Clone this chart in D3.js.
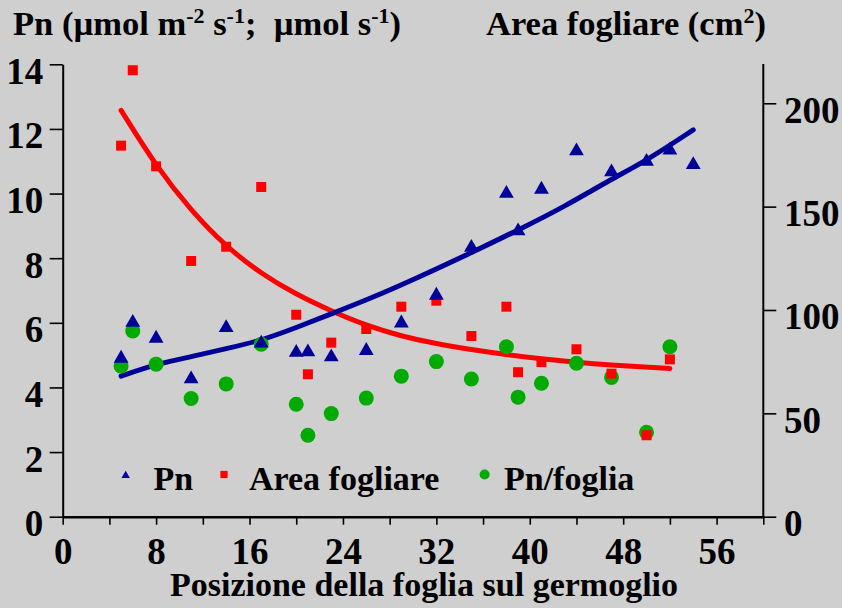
<!DOCTYPE html>
<html>
<head>
<meta charset="utf-8">
<script src="https://cdn.jsdelivr.net/npm/d3@7"></script>
<style>
  html, body { margin: 0; padding: 0; background: #cfcfcf; }
  svg { display: block; }
  text { font-family: "Liberation Serif", "Times New Roman", serif; font-weight: bold; fill: #000; }
</style>
</head>
<body>
<script>
// Leaf position along the shoot
const leafPos = [5, 6, 8, 11, 14, 17, 20, 21, 23, 26, 29, 32, 35, 38, 39, 41, 44, 47, 50, 52, 54];
// Net photosynthesis (µmol m-2 s-1)
const pnValues = [4.93, 6.04, 5.55, 4.29, 5.88, 5.40, 5.11, 5.13, 4.97, 5.17, 6.02, 6.88, 8.36, 10.03, 8.87, 10.16, 11.35, 10.70, 11.02, 11.37, 10.92];
// Leaf area (cm2), right axis
const areaValues = [179.5, 216.0, 169.5, 123.7, 130.6, 159.5, 97.7, 68.9, 84.2, 90.8, 101.6, 104.5, 87.4, 101.6, 69.9, 74.8, 81.0, 69.2, 39.4, 76.1, null];
// Photosynthesis per leaf (µmol s-1)
const pnLeafValues = [4.66, 5.75, 4.72, 3.66, 4.11, 5.34, 3.48, 2.52, 3.19, 3.67, 4.35, 4.80, 4.26, 5.26, 3.70, 4.13, 4.75, 4.31, 2.61, 5.26, null];

// Trend lines
const trendPnX = [5, 8, 11, 14, 17, 20, 23, 26, 30, 35, 39, 43, 47, 50, 54];
const trendPnY = [4.35, 4.72, 4.95, 5.2, 5.45, 5.85, 6.28, 6.7, 7.33, 8.17, 8.87, 9.6, 10.45, 11.02, 11.97];
const trendAreaX = [5, 8, 11, 14, 17, 20, 23, 26, 29, 32, 35, 38, 41, 44, 47, 50, 52];
const trendAreaY = [196.6, 169.5, 148, 130.6, 117.5, 107.5, 99.5, 92.5, 87.3, 83.6, 80.8, 78.4, 76.3, 74.6, 73.3, 72.3, 71.7];

// Axis ticks
const xTicksMinor = d3.range(0, 61, 4);
const xTickLabels = [0, 8, 16, 24, 32, 40, 48, 56];
const yLeftTicks = [0, 2, 4, 6, 8, 10, 12, 14];
const yRightTicks = [0, 50, 100, 150, 200];

const legendItems = [
  { label: "Pn", kind: "tri" },
  { label: "Area fogliare", kind: "sq" },
  { label: "Pn/foglia", kind: "dot" }
];

const W = 842, H = 608;
const colBlue = "#000099", colRed = "#ff0000", colGreen = "#00aa00";

const svg = d3.select("body").append("svg").attr("width", W).attr("height", H);
svg.append("rect").attr("width", W).attr("height", H).attr("fill", "#cfcfcf");

const x = d3.scaleLinear().domain([0, 60]).range([62.7, 763.3]);
const yL = d3.scaleLinear().domain([0, 14]).range([516.7, 64.3]);
const yR = d3.scaleLinear().domain([0, 219]).range([516.7, 64]);

const tickFont = 37;

// Left axis
const gL = svg.append("g").attr("transform", `translate(${x(0)},0)`)
  .call(d3.axisLeft(yL).tickValues(yLeftTicks).tickSize(13).tickPadding(6.4).tickSizeOuter(0));
// Right axis
const gR = svg.append("g").attr("transform", `translate(${x(60)},0)`)
  .call(d3.axisRight(yR).tickValues(yRightTicks).tickSize(13).tickPadding(7.6).tickSizeOuter(0));
[gL, gR].forEach(g => {
  g.select(".domain").attr("stroke", "#000").attr("stroke-width", 2);
  g.selectAll(".tick line").attr("stroke", "#000").attr("stroke-width", 1.6);
  g.selectAll(".tick text").attr("dy", 19).attr("font-size", tickFont)
    .attr("font-family", "Liberation Serif, serif").attr("font-weight", "bold");
});
gR.select(".domain").attr("d", `M0,${yR(219)}V${yR(0)}`);

// Bottom axis: a tick every 4 positions, labels every 8
const gX = svg.append("g").attr("transform", `translate(0,${yL(0)})`)
  .call(d3.axisBottom(x).tickValues(xTicksMinor).tickSize(8).tickSizeOuter(0));
gX.select(".domain").attr("stroke", "#000").attr("stroke-width", 2.6);
gX.selectAll(".tick line").attr("stroke", "#000").attr("stroke-width", 1.6);
gX.selectAll(".tick text").filter(d => !xTickLabels.includes(d)).remove();
gX.selectAll(".tick text").attr("y", 0).attr("dy", 47.5).attr("font-size", tickFont)
  .attr("font-family", "Liberation Serif, serif").attr("font-weight", "bold");

// Trend lines
const lineArea = d3.line().x(d => x(d[0])).y(d => yR(d[1])).curve(d3.curveBasis);
const linePn = d3.line().x(d => x(d[0])).y(d => yL(d[1])).curve(d3.curveBasis);
svg.append("path").attr("d", lineArea(d3.zip(trendAreaX, trendAreaY)))
  .attr("fill", "none").attr("stroke", colRed).attr("stroke-width", 5).attr("stroke-linecap", "round");
svg.append("path").attr("d", linePn(d3.zip(trendPnX, trendPnY)))
  .attr("fill", "none").attr("stroke", colBlue).attr("stroke-width", 5).attr("stroke-linecap", "round");

// Markers
const triPath = (s) => d3.symbol().type(d3.symbolTriangle).size(s)();
const leaf = leafPos.map((p, i) => ({ p, pn: pnValues[i], area: areaValues[i], pl: pnLeafValues[i] }));

svg.append("g").selectAll("circle").data(leaf.filter(d => d.pl != null)).join("circle")
  .attr("cx", d => x(d.p)).attr("cy", d => yL(d.pl)).attr("r", 7.5).attr("fill", colGreen);
svg.append("g").selectAll("rect").data(leaf.filter(d => d.area != null)).join("rect")
  .attr("x", d => x(d.p) - 5).attr("y", d => yR(d.area) - 5).attr("width", 10).attr("height", 10)
  .attr("fill", colRed);
svg.append("g").selectAll("path").data(leaf).join("path")
  .attr("d", triPath(95))
  .attr("transform", d => `translate(${x(d.p)},${yL(d.pn) + 1})`)
  .attr("fill", colBlue);

// Legend
const legX = [125.7, 224, 484.6];
const legTextX = [153.6, 249, 504];
const legY = 474.5;
legendItems.forEach((it, i) => {
  if (it.kind === "tri") {
    svg.append("path").attr("d", triPath(30)).attr("transform", `translate(${legX[i]},${legY + 1})`).attr("fill", colBlue);
  } else if (it.kind === "sq") {
    svg.append("rect").attr("x", legX[i] - 3.6).attr("y", legY - 3.6).attr("width", 7.2).attr("height", 7.2).attr("fill", colRed);
  } else {
    svg.append("circle").attr("cx", legX[i]).attr("cy", legY).attr("r", 5).attr("fill", colGreen);
  }
  svg.append("text").attr("x", legTextX[i]).attr("y", 489.5).attr("font-size", 34).text(it.label);
});

// Axis titles
svg.append("text").attr("x", 424).attr("y", 596).attr("text-anchor", "middle")
  .attr("font-size", 34).text("Posizione della foglia sul germoglio");

function titleWithSup(xPos, parts) {
  const t = svg.append("text").attr("x", xPos).attr("y", 35).attr("font-size", 34.5)
    .style("white-space", "pre");
  let raised = false;
  parts.forEach(([s, sup]) => {
    const ts = t.append("tspan").text(s);
    if (sup && !raised) { ts.attr("dy", -12).attr("font-size", 22); raised = true; }
    else if (!sup && raised) { ts.attr("dy", 12); raised = false; }
    else if (sup) { ts.attr("font-size", 22); }
  });
}
titleWithSup(13, [["Pn (µmol m", false], ["-2", true], [" s", false], ["-1", true], [";  µmol s", false], ["-1", true], [")", false]]);
titleWithSup(486, [["Area fogliare (cm", false], ["2", true], [")", false]]);
</script>
</body>
</html>
